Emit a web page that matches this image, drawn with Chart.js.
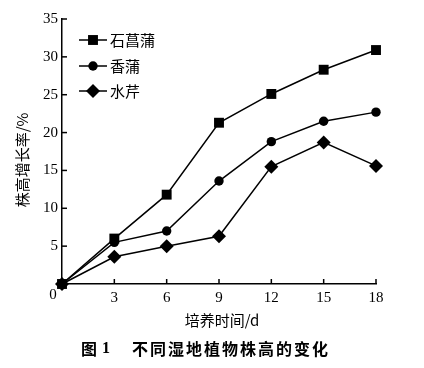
<!DOCTYPE html>
<html>
<head>
<meta charset="utf-8">
<script src="https://cdn.jsdelivr.net/npm/chart.js@4.4.1/dist/chart.umd.min.js"></script>
<style>html,body{margin:0;padding:0;background:#fff}</style>
</head>
<body>
<canvas id="c" width="424" height="368"></canvas>
<script>
var days = [0, 3, 6, 9, 12, 15, 18];
var yTicks = [0, 5, 10, 15, 20, 25, 30, 35];
var seriesNames = ['石菖蒲', '香蒲', '水芹'];
var shichangpu = [0, 6.0, 11.8, 21.3, 25.1, 28.3, 30.9];
var xiangpu = [0, 5.5, 7.0, 13.6, 18.8, 21.5, 22.7];
var shuiqin = [0, 3.6, 5.0, 6.3, 15.5, 18.7, 15.6];
var xTitle = '培养时间/d';
var yTitle = '株高增长率/%';

var serif = '"Liberation Serif", "Times New Roman", serif';
var cjk = '"Noto Sans CJK SC", sans-serif';

function pts(vals) {
    return days.map(function (d, i) { return { x: d, y: vals[i] }; });
}

function makeSet(label, vals, style, r) {
    return {
        label: label,
        data: pts(vals),
        borderColor: '#000',
        backgroundColor: '#000',
        borderWidth: 1.5,
        pointStyle: style,
        pointRadius: r,
        pointBackgroundColor: '#000',
        pointBorderColor: '#000',
        pointBorderWidth: 0,
        tension: 0,
        clip: false
    };
}

// ticks drawn inward, extra texts, and the line+marker legend
var decor = {
    id: 'decor',
    afterDraw: function (chart) {
        var ctx = chart.ctx;
        var xs = chart.scales.x, ys = chart.scales.y;
        var ax = xs.getPixelForValue(0), ay = ys.getPixelForValue(0);
        ctx.save();
        ctx.strokeStyle = '#000';
        ctx.lineWidth = 1.5;
        yTicks.forEach(function (v) {
            if (v === 0) return;
            var py = ys.getPixelForValue(v);
            ctx.beginPath(); ctx.moveTo(ax, py); ctx.lineTo(ax + 5, py); ctx.stroke();
        });
        days.forEach(function (d) {
            if (d === 0) return;
            var px = xs.getPixelForValue(d);
            ctx.beginPath(); ctx.moveTo(px, ay); ctx.lineTo(px, ay - 5); ctx.stroke();
        });

        ctx.fillStyle = '#000';
        ctx.textBaseline = 'middle';
        ctx.textAlign = 'center';
        ctx.font = '15px ' + serif;
        ctx.fillText('0', ax - 9, ay + 11);

        ctx.font = '15px ' + cjk;
        ctx.fillText(xTitle, 222, 320);

        ctx.save();
        ctx.translate(22, 160);
        ctx.rotate(-Math.PI / 2);
        ctx.font = '15px ' + cjk;
        ctx.fillText(yTitle, 0, 0);
        ctx.restore();

        ctx.font = 'bold 16px ' + cjk;
        ctx.textAlign = 'left';
        ctx.fillText('图', 81, 349);
        ctx.font = 'bold 16px ' + serif;
        ctx.fillText('1', 102, 349);
        ctx.font = 'bold 16px ' + cjk;
        ctx.letterSpacing = '2px';
        ctx.fillText('不同湿地植物株高的变化', 132, 349);
        ctx.letterSpacing = '0px';

        var rows = [40, 66, 91];
        chart.data.datasets.forEach(function (ds, i) {
            var y = rows[i];
            ctx.strokeStyle = '#000';
            ctx.lineWidth = 1.5;
            ctx.beginPath(); ctx.moveTo(79, y); ctx.lineTo(107, y); ctx.stroke();
            ctx.fillStyle = '#000';
            Chart.helpers.drawPoint(ctx, {
                pointStyle: ds.pointStyle, radius: ds.pointRadius, borderWidth: 0, rotation: 0
            }, 93, y);
            ctx.fillStyle = '#000';
            ctx.font = '15px ' + cjk;
            ctx.textAlign = 'left';
            ctx.fillText(ds.label, 110, y);
        });
        ctx.restore();
    }
};

new Chart(document.getElementById('c').getContext('2d'), {
    type: 'line',
    data: {
        datasets: [
            makeSet(seriesNames[0], shichangpu, 'rect', 7),
            makeSet(seriesNames[1], xiangpu, 'circle', 4.7),
            makeSet(seriesNames[2], shuiqin, 'rectRot', 7)
        ]
    },
    options: {
        responsive: false,
        animation: false,
        layout: { padding: { left: 8, top: 19, right: 48, bottom: 0 } },
        plugins: { legend: { display: false }, tooltip: { enabled: false } },
        scales: {
            x: {
                type: 'linear',
                min: 0, max: 18,
                afterFit: function (s) { s.height = 84; },
                grid: { display: false, drawTicks: false },
                border: { color: '#000', width: 1.5 },
                ticks: {
                    stepSize: 3,
                    padding: 5,
                    color: '#000',
                    font: { family: serif, size: 15 },
                    callback: function (v) { return v === 0 ? '' : v; }
                }
            },
            y: {
                min: 0, max: 35,
                afterFit: function (s) { s.width = 54; },
                grid: { display: false, drawTicks: false },
                border: { color: '#000', width: 1.5 },
                ticks: {
                    stepSize: 5,
                    padding: 4,
                    color: '#000',
                    font: { family: serif, size: 15 },
                    callback: function (v) { return v === 0 ? '' : v; }
                }
            }
        }
    },
    plugins: [decor]
});
</script>
</body>
</html>
